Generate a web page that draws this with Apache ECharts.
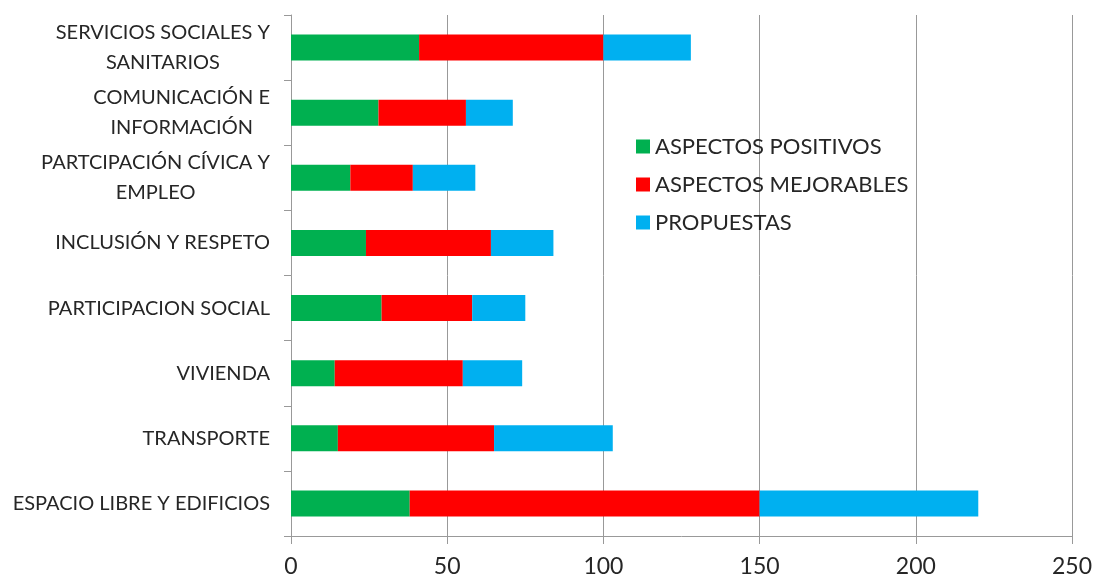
<!DOCTYPE html>
<html>
<head>
<meta charset="utf-8">
<script src="https://cdn.jsdelivr.net/npm/echarts@6/dist/echarts.min.js"></script>
<style>
    html, body { margin: 0; padding: 0; background: #fff; }
    #chart { width: 1096px; height: 577px; }
</style>
</head>
<body>
<div id="chart"></div>
<script>
// categorias (de abajo hacia arriba)
var categorias = [
    'ESPACIO LIBRE Y EDIFICIOS',
    'TRANSPORTE',
    'VIVIENDA',
    'PARTICIPACION SOCIAL',
    'INCLUSIÓN Y RESPETO',
    'PARTCIPACIÓN CÍVICA Y\nEMPLEO',
    'COMUNICACIÓN E\nINFORMACIÓN',
    'SERVICIOS SOCIALES Y\nSANITARIOS'
];
var positivos  = [38, 15, 14, 29, 24, 19, 28, 41];   // aspectos positivos
var mejorables = [112, 50, 41, 29, 40, 20, 28, 59];  // aspectos mejorables
var propuestas = [70, 38, 19, 17, 20, 20, 15, 28];   // propuestas
var ticksX = [0, 50, 100, 150, 200, 250];

var fuente = 'Lato';

var myChart = echarts.init(document.getElementById('chart'));
myChart.setOption({
    animation: false,
    textStyle: {fontFamily: fuente},
    legend: {
        orient: 'vertical',
        left: 631,
        top: 130,
        icon: 'rect',
        itemWidth: 14,
        itemHeight: 14,
        itemGap: 15,
        textStyle: {fontSize: 22, color: '#262626', fontFamily: fuente, lineHeight: 23},
        data: ['ASPECTOS POSITIVOS', 'ASPECTOS MEJORABLES', 'PROPUESTAS']
    },
    grid: {
        left: 291,
        right: 24,
        top: 15,
        bottom: 41,
        outerBoundsMode: 'none'
    },
    xAxis: {
        type: 'value',
        min: ticksX[0],
        max: ticksX[ticksX.length - 1],
        interval: 50,
        axisLine: {show: true, lineStyle: {color: '#999', width: 1}},
        axisTick: {show: true, length: 8, lineStyle: {color: '#999'}},
        splitLine: {show: true, lineStyle: {color: '#999', width: 1}},
        axisLabel: {fontSize: 23, color: '#262626', margin: 19, fontFamily: fuente}
    },
    yAxis: {
        type: 'category',
        data: categorias,
        axisLine: {show: true, lineStyle: {color: '#999', width: 1}},
        axisTick: {show: true, length: 7, lineStyle: {color: '#999'}},
        axisLabel: {
            margin: 21,
            align: 'right',
            // lineas centradas dentro de la etiqueta
            formatter: function (v) {
                return '{c|' + v + '}';
            },
            rich: {
                c: {align: 'center', fontSize: 20, lineHeight: 30, color: '#262626', fontFamily: fuente}
            }
        }
    },
    series: [
        {name: 'ASPECTOS POSITIVOS', type: 'bar', stack: 'total', barWidth: 26, data: positivos, itemStyle: {color: '#00B050'}},
        {name: 'ASPECTOS MEJORABLES', type: 'bar', stack: 'total', barWidth: 26, data: mejorables, itemStyle: {color: '#FF0000'}},
        {name: 'PROPUESTAS', type: 'bar', stack: 'total', barWidth: 26, data: propuestas, itemStyle: {color: '#00B0F0'}}
    ]
});
</script>
</body>
</html>
